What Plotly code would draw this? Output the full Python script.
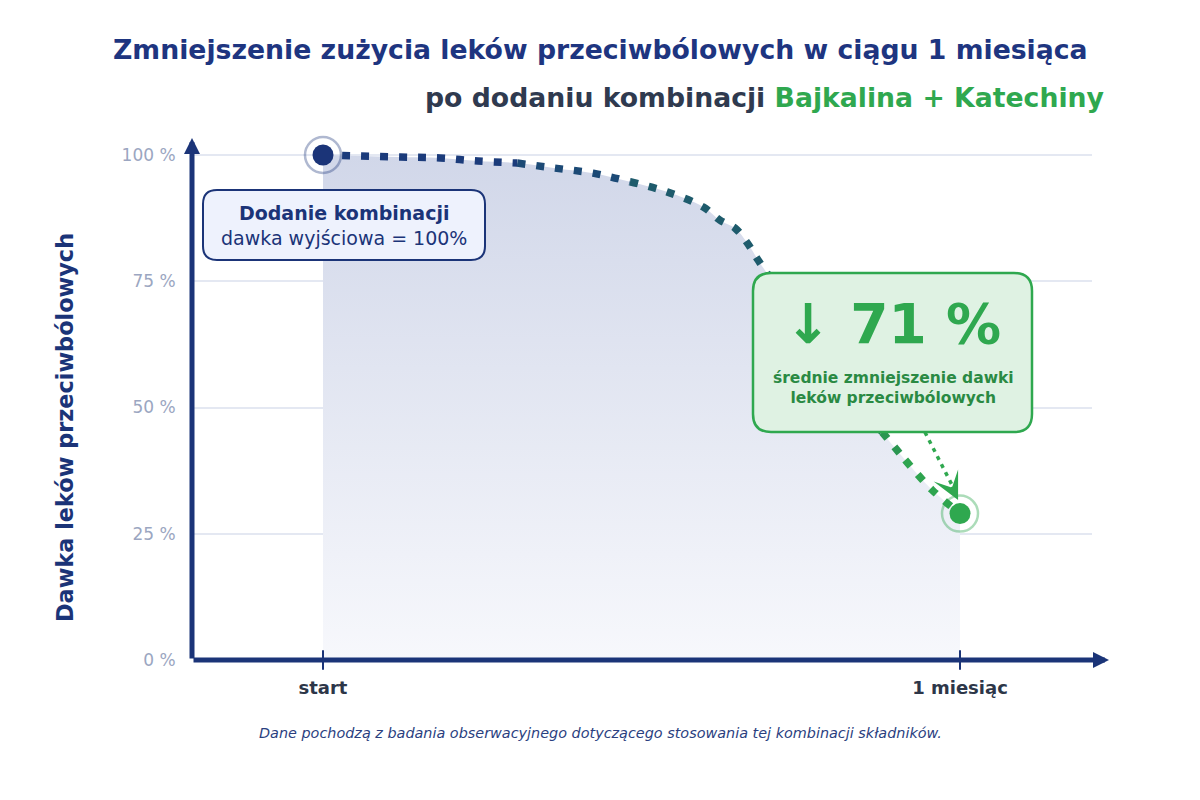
import plotly.graph_objects as go

# ---------------- data ----------------
months = [0.0, 0.121, 0.184, 0.243, 0.305, 0.364, 0.424, 0.482, 0.540, 0.597, 0.623,
          0.647, 0.666, 0.683, 0.697, 0.749, 0.812, 0.878, 0.914, 0.956, 1.0]
dose = [100, 99.6, 99.4, 98.8, 98.4, 97.4, 96.4, 94.7, 92.7, 89.7, 87.1,
        85.5, 82.6, 79.2, 76.6, 67.7, 56.8, 45.1, 39.6, 33.7, 29.0]
x_tick_vals = [0, 1]
x_tick_text = ["start", "1 miesiąc"]
y_tick_vals = [0, 25, 50, 75, 100]
y_tick_text = ["0 %", "25 %", "50 %", "75 %", "100 %"]
reduction = 71

# segments of the dotted curve with their colours (navy -> teal -> green)
seg_bounds = [(0, 4), (4, 7), (7, 15), (15, 17), (17, 18), (18, 20)]
seg_colors = ["#1b3b7b", "#1c4a76", "#1e5b6c", "#247a5c", "#2b9651", "#2ea44f"]

FONT = "DejaVu Sans"
NAVY = "#1b3478"
GREEN = "#2fa84f"

OFF = 8  # page offset of the figure
# plot area in page pixels
L, R, T, B = 192, 1092, 140, 660
W_PX, H_PX = R - L, B - T


def P(px, py):
    return f"{(px - L) / W_PX:.5f},{(B - py) / H_PX:.5f}"


def xp(px):
    return (px - L) / W_PX


def yp(py):
    return (B - py) / H_PX


def rrect(x0, y0, x1, y1, r):
    return (f"M{P(x0 + r, y0)} L{P(x1 - r, y0)} Q{P(x1, y0)} {P(x1, y0 + r)} "
            f"L{P(x1, y1 - r)} Q{P(x1, y1)} {P(x1 - r, y1)} L{P(x0 + r, y1)} "
            f"Q{P(x0, y1)} {P(x0, y1 - r)} L{P(x0, y0 + r)} Q{P(x0, y0)} {P(x0 + r, y0)} Z")


fig = go.Figure()

# area fill under curve
fig.add_trace(go.Scatter(
    x=months, y=dose, mode="lines", line=dict(width=0, shape="spline"),
    fill="tozeroy",
    fillgradient=dict(type="vertical",
                      colorscale=[[0, "rgba(247,248,252,1)"], [1, "rgba(209,215,233,1)"]]),
    hoverinfo="skip", showlegend=False))

# dotted curve in coloured segments
for (a, b), c in zip(seg_bounds, seg_colors):
    fig.add_trace(go.Scatter(
        x=months[a:b + 1], y=dose[a:b + 1], mode="lines",
        line=dict(color=c, width=7.5, dash="8px,11px", shape="spline"),
        hoverinfo="skip", showlegend=False))

# green dotted pointer line from box to end point
tip_x, tip_y = months[-1] - 0.003, dose[-1] + 2.7
fig.add_trace(go.Scatter(
    x=[0.945, tip_x - 0.004], y=[45.1, tip_y + 1.6], mode="lines",
    line=dict(color=GREEN, width=3.5, dash="4px,5px"),
    cliponaxis=False, hoverinfo="skip", showlegend=False))

# start / end markers with halo
fig.add_trace(go.Scatter(
    x=[months[0], months[-1]], y=[dose[0], dose[-1]], mode="markers",
    marker=dict(size=36, color="rgba(0,0,0,0)",
                line=dict(width=2.5, color=["rgba(27,52,120,0.35)", "rgba(47,168,79,0.4)"])),
    cliponaxis=False, hoverinfo="skip", showlegend=False))
fig.add_trace(go.Scatter(
    x=[months[0], months[-1]], y=[dose[0], dose[-1]], mode="markers",
    marker=dict(size=21, color=[NAVY, GREEN]),
    cliponaxis=False, hoverinfo="skip", showlegend=False))

# tick marks on x axis
fig.add_trace(go.Scatter(
    x=x_tick_vals, y=[0, 0], mode="markers",
    marker=dict(symbol="line-ns", size=14, line=dict(width=2, color=NAVY)),
    cliponaxis=False, hoverinfo="skip", showlegend=False))

shapes = [
    dict(type="path", xref="paper", yref="paper", path=rrect(203, 190, 485, 260, 14),
         fillcolor="#eef2fd", line=dict(color=NAVY, width=2), layer="above"),
    dict(type="path", xref="paper", yref="paper", path=rrect(753, 273, 1032, 432, 18),
         fillcolor="#dff2e3", line=dict(color=GREEN, width=2.5), layer="above"),
]

annotations = [
    # axes arrows
    dict(xref="x domain", yref="y domain", x=xp(1109), y=0, axref="x domain", ayref="y domain",
         ax=0, ay=0, showarrow=True, arrowhead=2, arrowsize=0.64, arrowwidth=5,
         arrowcolor=NAVY, text=""),
    dict(xref="x domain", yref="y domain", x=0, y=yp(138), axref="x domain", ayref="y domain",
         ax=0, ay=0, showarrow=True, arrowhead=2, arrowsize=0.64, arrowwidth=5,
         arrowcolor=NAVY, text=""),
    # pointer arrowhead
    dict(xref="x", yref="y", x=tip_x, y=tip_y, ax=-6, ay=-12, showarrow=True,
         arrowhead=3, arrowsize=1.3, arrowwidth=3.5, arrowcolor=GREEN, text=""),
    # titles
    dict(xref="paper", yref="paper", x=xp(600), y=yp(50), showarrow=False,
         text="<b>Zmniejszenie zużycia leków przeciwbólowych w ciągu 1 miesiąca</b>",
         font=dict(family=FONT, size=26.7, color="#1e3580"), xanchor="center", yanchor="middle"),
    dict(xref="paper", yref="paper", x=xp(1106), y=yp(97), showarrow=False,
         text="<b>po dodaniu kombinacji <span style='color:#2fa84f'>Bajkalina + Katechiny</span></b>",
         font=dict(family=FONT, size=26.7, color="#2f3a4f"), xanchor="right", yanchor="middle"),
    # y axis title
    dict(xref="paper", yref="paper", x=xp(65), y=yp(428), showarrow=False,
         text="<b>Dawka leków przeciwbólowych</b>", textangle=-90,
         font=dict(family=FONT, size=22.4, color=NAVY), xanchor="center", yanchor="middle"),
    # left box
    dict(xref="paper", yref="paper", x=xp(344), y=yp(225), showarrow=False,
         text="<b>Dodanie kombinacji</b><br>dawka wyjściowa = 100%",
         font=dict(family=FONT, size=19, color=NAVY), align="center",
         xanchor="center", yanchor="middle"),
    # green box
    dict(xref="paper", yref="paper", x=xp(893), y=yp(324), showarrow=False,
         text=f"<b>↓ {reduction} %</b>",
         font=dict(family=FONT, size=55, color=GREEN), xanchor="center", yanchor="middle"),
    dict(xref="paper", yref="paper", x=xp(893), y=yp(388), showarrow=False,
         text="<b>średnie zmniejszenie dawki<br>leków przeciwbólowych</b>",
         font=dict(family=FONT, size=15.5, color="#2a8a43"), align="center",
         xanchor="center", yanchor="middle"),
    # footnote
    dict(xref="paper", yref="paper", x=xp(600), y=yp(733), showarrow=False,
         text="<i>Dane pochodzą z badania obserwacyjnego dotyczącego stosowania tej kombinacji składników.</i>",
         font=dict(family=FONT, size=14.4, color="#2b3f7f"), xanchor="center", yanchor="middle"),
]

fig.update_layout(
    width=1200, height=800,
    margin=dict(l=L - OFF, r=1200 - (R - OFF), t=T - OFF, b=800 - (B - OFF), pad=0),
    paper_bgcolor="white", plot_bgcolor="white",
    showlegend=False,
    shapes=shapes, annotations=annotations,
    xaxis=dict(range=[(L - 323) / 637, (R - 323) / 637], tickvals=x_tick_vals, ticktext=x_tick_text,
               showgrid=False, zeroline=False, showline=False,
               ticks="outside", ticklen=11, tickcolor="rgba(0,0,0,0)",
               tickfont=dict(family=FONT, size=18, color="#2d3648", weight="bold")),
    yaxis=dict(range=[0, H_PX / 5.05], tickvals=y_tick_vals, ticktext=y_tick_text,
               showgrid=True, gridcolor="#e4e8f2", gridwidth=2, zeroline=False, showline=False,
               ticks="outside", ticklen=12, tickcolor="rgba(0,0,0,0)",
               tickfont=dict(family=FONT, size=17, color="#9ba6c1")),
)

fig.write_html("out.html")
